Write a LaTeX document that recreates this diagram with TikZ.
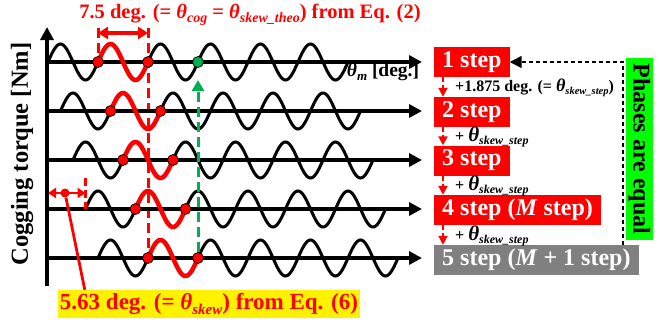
\documentclass[tikz,border=0pt]{standalone}
\usepackage{fontspec}
\setmainfont{Liberation Serif}
\usetikzlibrary{arrows.meta,calc}
\definecolor{pgreen}{RGB}{0,176,80}
\definecolor{bgreen}{RGB}{0,255,0}
\definecolor{bgray}{RGB}{128,128,128}
\newcommand\fsz[1]{\fontsize{#1}{#1}\selectfont}
\newcommand\lowsub[2]{\raisebox{-0.2em}{\fsz{#1}\itshape #2}}
\pgfdeclarelayer{bg}
\pgfsetlayers{bg,main}
\begin{document}
\begin{tikzpicture}[x=1pt,y=-1pt,font=\bfseries,
  axis/.style={line width=4pt,-{Triangle[length=13pt,width=13pt]}},
  wave/.style={line width=3pt,black},
  redwave/.style={line width=4.5pt,red},
  dot/.style={circle,fill=red,draw=black,line width=0.7pt,minimum size=11pt,inner sep=0pt},
  stepbox/.style={fill=red,text=white,font=\bfseries\fsz{24},minimum height=30pt,inner xsep=8pt,inner ysep=0pt,anchor=west},
  steparrow/.style={red,line width=2pt,dash pattern=on 5pt off 3pt,-{Triangle[length=9pt,width=9pt]}},
  stepnote/.style={font=\bfseries\fsz{16},anchor=west,inner sep=0pt},
  vdash/.style={line width=3pt,dash pattern=on 10pt off 5pt}]
\useasboundingbox (0,0) rectangle (669,324);

% axes
\coordinate (ybot) at (47,286);
\coordinate (ytop) at (47,27);
\draw[axis] (ybot) -- (ytop);
\foreach \k/\yy in {0/62,1/111,2/160,3/209,4/258}{
  \coordinate (ax\k) at (47,\yy);
  \coordinate (axe\k) at (422,\yy);
  \draw[axis] (ax\k) -- (axe\k);
}

% waves
\foreach \k/\yy in {0/62,1/111,2/160,3/209,4/258}{
  \pgfmathsetmacro\xs{48+12.5*\k}
  \pgfmathsetmacro\xe{\xs+300}
  \pgfmathsetmacro\ra{\xs+50}
  \pgfmathsetmacro\rb{\xs+100}
  \draw[wave] plot[domain=\xs:\xe,samples=241,smooth] (\x,{\yy-18*sin((\x-\xs)*7.2)});
  \draw[redwave] plot[domain=\ra:\rb,samples=61,smooth] (\x,{\yy-18*sin((\x-\xs)*7.2)});
  \node[dot] (a\k) at (\ra,\yy) {};
  \node[dot] (b\k) at (\rb,\yy) {};
}
\node[dot,fill=pgreen] (g0) at (198,62) {};

% dashed guides
\coordinate (t1) at (98,28);
\coordinate (t2) at (148,28);
\coordinate (d1) at (98,33);
\coordinate (d2) at (148,33);
\coordinate (gtip) at (198,80);
\begin{pgfonlayer}{bg}
\draw[vdash,red] (t1) -- (a0);
\draw[vdash,red] (t2) -- (a4);
\end{pgfonlayer}
\draw[red,line width=3.2pt,{Triangle[length=10pt,width=12pt]}-{Triangle[length=10pt,width=12pt]}] (d1) -- (d2);
\draw[vdash,pgreen,-{Triangle[length=11pt,width=12pt]}] (b4) -- (gtip);

% left skew marker
\coordinate (s0) at (48,193);
\coordinate (s1c) at (85.5,193);
\coordinate (sd1) at (85.5,178);
\coordinate (sd2) at (85.5,209);
\node[circle,fill=red,minimum size=9pt,inner sep=0pt] (ldot) at (65,193) {};
\draw[red,line width=2.8pt,{Triangle[length=8pt,width=10pt]}-{Triangle[length=8pt,width=10pt]}] (s0) -- (s1c);
\draw[red,line width=3pt,dash pattern=on 8pt off 4pt] (sd1) -- (sd2);

% labels
\node[text=red,inner sep=0pt] (title) at (250,15) {\fsz{20.5}7.5 deg. (= \textit{θ}\lowsub{14}{cog} = \textit{θ}\lowsub{14}{skew\_theo}) from Eq. (2)};
\node[fill=yellow,text=red,inner xsep=2pt,inner ysep=2pt,minimum height=28pt] (lbl) at (209,304) {\fsz{23}5.63 deg. (= \textit{θ}\lowsub{15}{skew}) from Eq. (6)};
\draw[red,line width=2.8pt] (ldot) -- ([xshift=27pt]lbl.north west);
\node[inner sep=0pt] (thm) at (383,72) {\fsz{19.5}\textit{θ}\lowsub{13}{m} [deg.]};
\node[rotate=90,inner sep=0pt] (ylab) at (22,154) {\fsz{24.5}Cogging torque [Nm]};

% step boxes
\node[stepbox] (st1) at (434,62) {1 step};
\node[stepbox] (st2) at (434,112) {2 step};
\node[stepbox] (st3) at (434,160.5) {3 step};
\node[stepbox] (st4) at (434,210) {4 step (\textit{M} step)};
\node[stepbox,fill=bgray] (st5) at (434,260) {5 step (\textit{M} + 1 step)};

\coordinate (xl) at (443,0);
\draw[steparrow] (xl |- st1.south) -- (xl |- st2.north);
\draw[steparrow] (xl |- st2.south) -- (xl |- st3.north);
\draw[steparrow] (xl |- st3.south) -- (xl |- st4.north);
\draw[steparrow] (xl |- st4.south) -- (xl |- st5.north);

\node[stepnote] (n1) at (455,88) {+1.875 deg. (= {\fsz{18}\textit{θ}}\lowsub{10.5}{skew\_step})};
\node[stepnote] (n2) at (455,137) {+ {\fsz{21}\textit{θ}}\lowsub{12}{skew\_step}};
\node[stepnote] (n3) at (455,186) {+ {\fsz{21}\textit{θ}}\lowsub{12}{skew\_step}};
\node[stepnote] (n4) at (455,236) {+ {\fsz{21}\textit{θ}}\lowsub{12}{skew\_step}};

% phases equal
\node[rotate=-90,fill=bgreen,font=\bfseries\fsz{24},minimum width=182pt,minimum height=27pt,inner sep=0pt] (ph) at (639.5,149) {Phases are equal};
\coordinate (dx) at (623,0);
\draw[line width=1.6pt,dash pattern=on 4pt off 3pt,-{Triangle[length=12pt,width=12pt]}] (dx |- st5.north) |- (st1.east);
\end{tikzpicture}
\end{document}
